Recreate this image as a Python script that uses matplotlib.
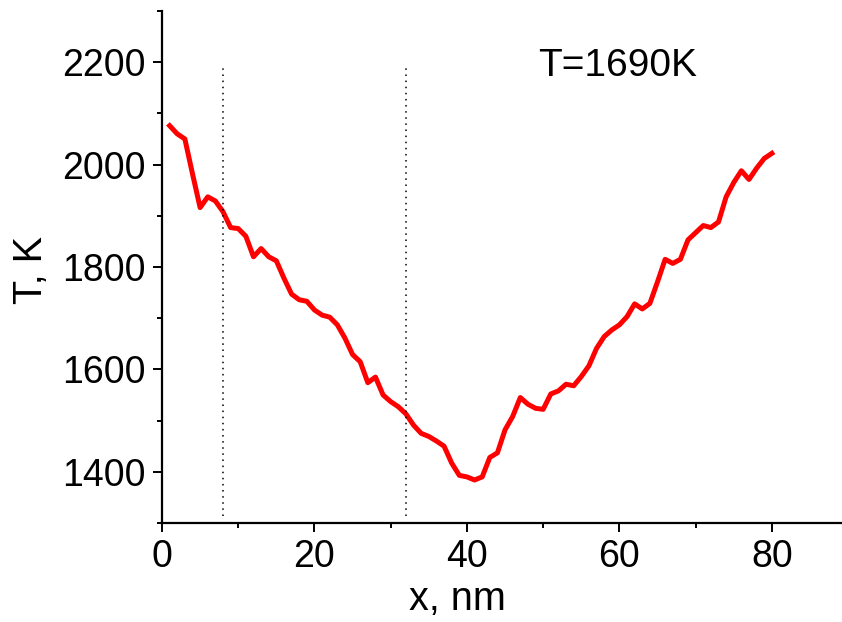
import numpy as np
import matplotlib
matplotlib.use("Agg")
import matplotlib.pyplot as plt
from matplotlib.ticker import MultipleLocator

plt.rcParams['font.family'] = ['Liberation Sans', 'DejaVu Sans']

# distance along x, nm
x_nm = np.arange(1, 81)
# temperature profile, K
temp_K = [2076, 2060, 2050, 1982, 1916, 1937, 1929, 1908, 1877, 1875,
          1860, 1820, 1836, 1820, 1812, 1778, 1747, 1736, 1733, 1716,
          1706, 1702, 1687, 1661, 1629, 1615, 1574, 1585, 1550, 1537,
          1527, 1513, 1491, 1475, 1469, 1460, 1450, 1417, 1393, 1390,
          1384, 1390, 1428, 1437, 1482, 1508, 1545, 1532, 1524, 1522,
          1552, 1558, 1571, 1568, 1586, 1607, 1641, 1664, 1677, 1687,
          1703, 1728, 1718, 1729, 1771, 1815, 1807, 1815, 1853, 1867,
          1881, 1877, 1888, 1937, 1965, 1988, 1971, 1993, 2012, 2022]
# region borders
borders = [8, 32]
label = "T=1690K"

fig = plt.figure(figsize=(8.42, 6.22), dpi=100)
ax = fig.add_axes([0.1924, 0.1592, 0.8076, 0.8231])

ax.plot(x_nm, temp_K, color='red', lw=3.6, solid_joinstyle='round')
for b in borders:
    ax.plot([b, b], [1314, 2192], color='black', lw=1.1, ls=(0, (1, 3)))

ax.text(49.3, 2192, label, fontsize=28, va='center', ha='left')

ax.set_xlim(0, 89.2)
ax.set_ylim(1300, 2300)
ax.xaxis.set_major_locator(MultipleLocator(20))
ax.xaxis.set_minor_locator(MultipleLocator(10))
ax.yaxis.set_major_locator(MultipleLocator(200))
ax.yaxis.set_minor_locator(MultipleLocator(100))

for s in ['top', 'right']:
    ax.spines[s].set_visible(False)
for s in ['left', 'bottom']:
    ax.spines[s].set_linewidth(1.6)

ax.tick_params(which='major', direction='out', length=6.8, width=1.4, labelsize=27, pad=5)
ax.tick_params(which='minor', direction='out', length=3.8, width=1.4)

ax.set_xlabel("x, nm", fontsize=28.5)
ax.set_ylabel("T, K", fontsize=28.5)
ax.xaxis.set_label_coords(0.434, -0.111)
ax.yaxis.set_label_coords(-0.165, 0.494)

fig.savefig("out.png", dpi=100)
